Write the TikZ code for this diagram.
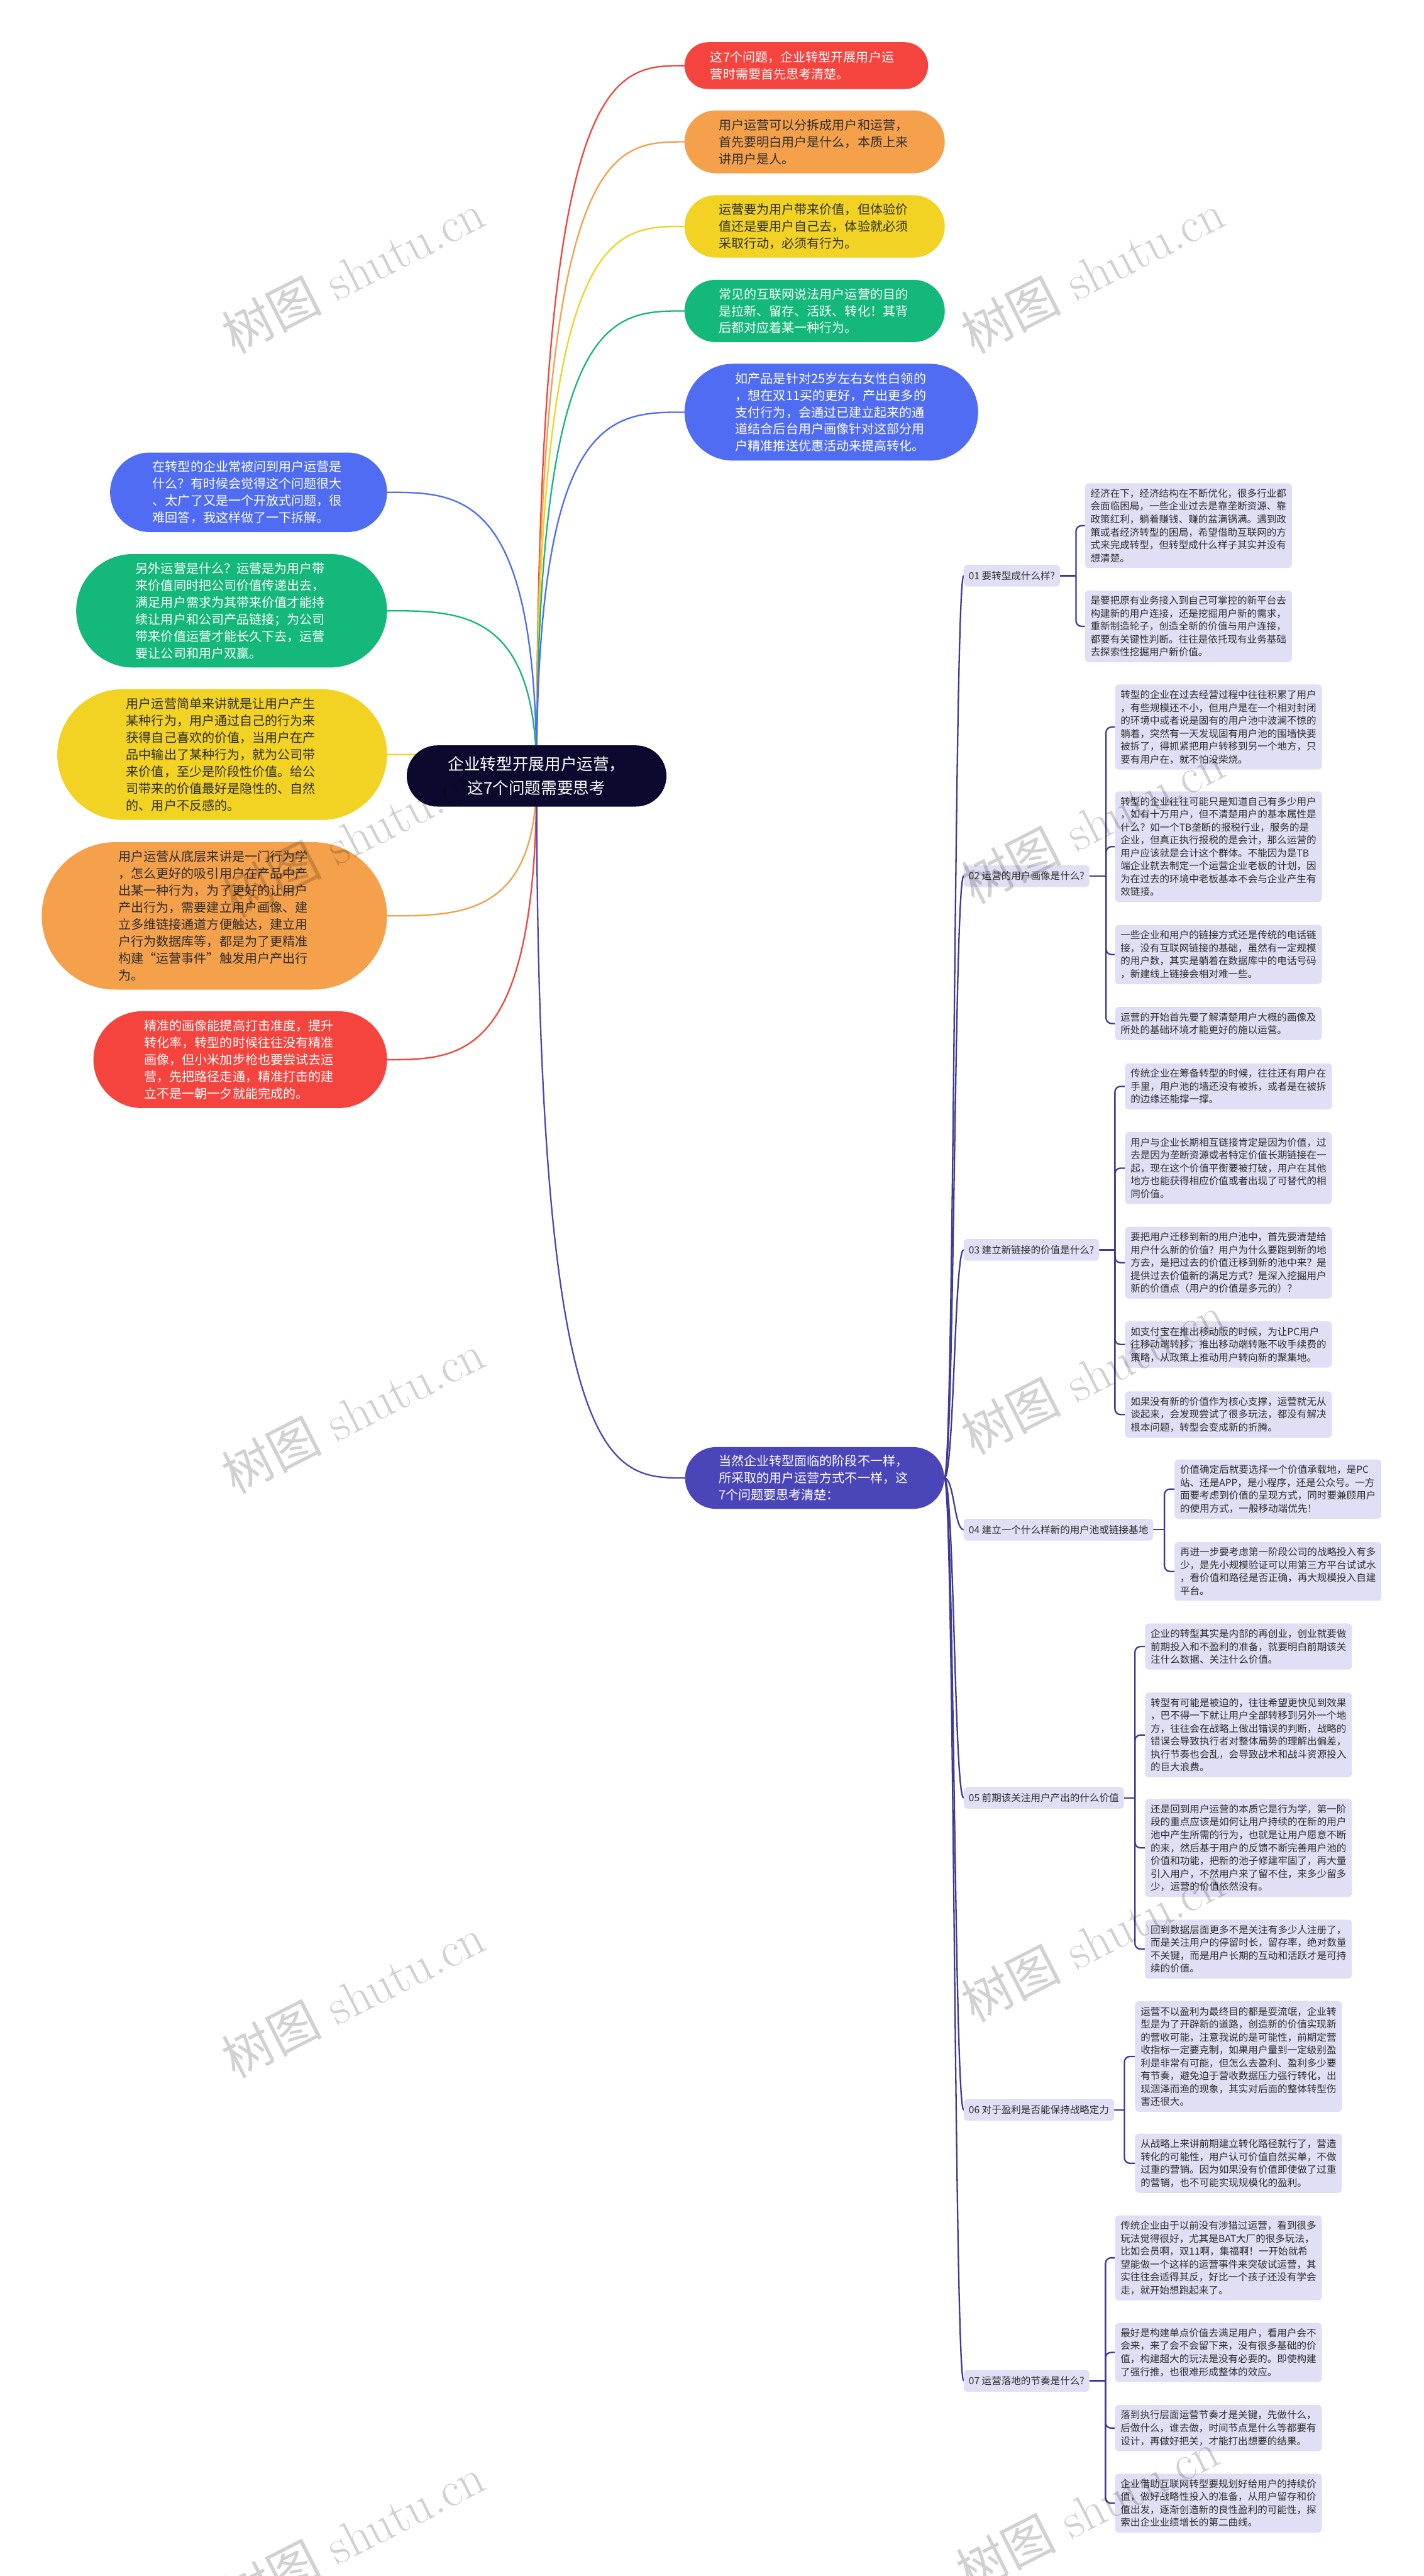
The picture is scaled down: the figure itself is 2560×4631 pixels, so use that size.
\documentclass[tikz,border=0pt]{standalone}
\usepackage{fontspec}
\newfontfamily\cjk{Noto Sans CJK SC}
\usetikzlibrary{calc,backgrounds}
\definecolor{cRed}{HTML}{F5443E}
\definecolor{cOrange}{HTML}{F5A04B}
\definecolor{cYellow}{HTML}{F2D323}
\definecolor{cGreen}{HTML}{14B87A}
\definecolor{cBlue}{HTML}{4F6CF2}
\definecolor{cPurple}{HTML}{4B45BA}
\definecolor{cCenter}{HTML}{0B0A2E}
\definecolor{cLeaf}{HTML}{E1DFF5}
\definecolor{cLine}{HTML}{3E3A96}
\definecolor{cText}{HTML}{2E2E2E}
\newcommand\mmcurve[3]{\draw[conn,#1] (C.center) .. controls (C.center |- #2.#3) and ($(C.center |- #2.#3)!0.5!(#2.#3)$) .. (#2.#3);}
\newcommand\mmspine[1]{\draw[conn,cLine] (P.east) .. controls (1716,2657) and (#1.west -| 1716,0) .. (#1.west);}
\newcommand\mmbracket[3]{%
  \draw[br] (#1.east) -- (#1.east -| #2,0);
  \foreach \l in {#3} {\draw[br] (#1.east -| #2,0) |- (\l.west);}}
\newcommand\wmark[2]{\node[wm] at (#1,#2) {{\cjk 树图} shutu.cn};}
\begin{document}
\begin{tikzpicture}[x=1pt,y=-1pt,
  pill/.style={rectangle, inner sep=0pt, font=\cjk\fontsize{22.7}{30.4}\selectfont, text width=345pt, align=left},
  cnode/.style={rectangle, fill=cCenter, text=white, minimum width=467pt, minimum height=110pt, rounded corners=55pt, inner sep=0pt, font=\cjk\fontsize{29}{43}\selectfont, align=center},
  lab/.style={rectangle, fill=cLeaf, rounded corners=6pt, inner xsep=9pt, inner ysep=0pt, minimum height=39pt, font=\cjk\fontsize{17.6}{23.2}\selectfont, text=cText, anchor=west},
  leaf/.style={rectangle, fill=cLeaf, rounded corners=7pt, inner xsep=10pt, inner ysep=10pt, text width=352pt, align=left, font=\cjk\fontsize{17.6}{23.2}\selectfont, text=cText, anchor=west},
  conn/.style={line width=2.6pt, line cap=round},
  br/.style={draw=cLine, line width=2.6pt, rounded corners=10pt},
  wm/.style={rotate=27, text=black, text opacity=0.18, font=\fontsize{90}{90}\selectfont, inner sep=0pt}
]
\useasboundingbox (0,0) rectangle (2560,4631);

% central node
\node[cnode] (C) at (965,1395) {企业转型开展用户运营，\\这7个问题需要思考};

% top right
\node[pill, fill=cRed, text=white, minimum width=438pt, minimum height=84pt, rounded corners=42pt] (R1) at (1450,118) {这7个问题，企业转型开展用户运\\营时需要首先思考清楚。};
\node[pill, fill=cOrange, text=cText, minimum width=468pt, minimum height=113pt, rounded corners=56.5pt] (R2) at (1465,255) {用户运营可以分拆成用户和运营，\\首先要明白用户是什么，本质上来\\讲用户是人。};
\node[pill, fill=cYellow, text=cText, minimum width=468pt, minimum height=112pt, rounded corners=56pt] (R3) at (1465,407) {运营要为用户带来价值，但体验价\\值还是要用户自己去，体验就必须\\采取行动，必须有行为。};
\node[pill, fill=cGreen, text=white, minimum width=468pt, minimum height=112pt, rounded corners=56pt] (R4) at (1465,559) {常见的互联网说法用户运营的目的\\是拉新、留存、活跃、转化！其背\\后都对应着某一种行为。};
\node[pill, fill=cBlue, text=white, minimum width=528pt, minimum height=174pt, rounded corners=87pt] (R5) at (1495,741) {如产品是针对25岁左右女性白领的\\，想在双11买的更好，产出更多的\\支付行为，会通过已建立起来的通\\道结合后台用户画像针对这部分用\\户精准推送优惠活动来提高转化。};

% left
\node[pill, fill=cBlue, text=white, minimum width=498pt, minimum height=143pt, rounded corners=71.5pt] (L1) at (447,885) {在转型的企业常被问到用户运营是\\什么？有时候会觉得这个问题很大\\、太广了又是一个开放式问题，很\\难回答，我这样做了一下拆解。};
\node[pill, fill=cGreen, text=white, minimum width=559pt, minimum height=204pt, rounded corners=102pt] (L2) at (416.5,1098) {另外运营是什么？运营是为用户带\\来价值同时把公司价值传递出去，\\满足用户需求为其带来价值才能持\\续让用户和公司产品链接；为公司\\带来价值运营才能长久下去，运营\\要让公司和用户双赢。};
\node[pill, fill=cYellow, text=cText, minimum width=593pt, minimum height=235pt, rounded corners=117.5pt] (L3) at (399.5,1356.5) {用户运营简单来讲就是让用户产生\\某种行为，用户通过自己的行为来\\获得自己喜欢的价值，当用户在产\\品中输出了某种行为，就为公司带\\来价值，至少是阶段性价值。给公\\司带来的价值最好是隐性的、自然\\的、用户不反感的。};
\node[pill, fill=cOrange, text=cText, minimum width=621pt, minimum height=265pt, rounded corners=132.5pt] (L4) at (385.5,1646.5) {用户运营从底层来讲是一门行为学\\，怎么更好的吸引用户在产品中产\\出某一种行为，为了更好的让用户\\产出行为，需要建立用户画像、建\\立多维链接通道方便触达，建立用\\户行为数据库等，都是为了更精准\\构建“运营事件”触发用户产出行\\为。};
\node[pill, fill=cRed, text=white, minimum width=528pt, minimum height=174pt, rounded corners=87pt] (L5) at (432,1905) {精准的画像能提高打击准度，提升\\转化率，转型的时候往往没有精准\\画像，但小米加步枪也要尝试去运\\营，先把路径走通，精准打击的建\\立不是一朝一夕就能完成的。};

% purple hub
\node[pill, fill=cPurple, text=white, minimum width=466pt, minimum height=111pt, rounded corners=55.5pt] (P) at (1465,2657) {当然企业转型面临的阶段不一样，\\所采取的用户运营方式不一样，这\\7个问题要思考清楚：};

% labels
\node[lab] (b1) at (1733,1035) {01 要转型成什么样?};
\node[lab] (b2) at (1733,1575) {02 运营的用户画像是什么?};
\node[lab] (b3) at (1733,2247) {03 建立新链接的价值是什么?};
\node[lab] (b4) at (1733,2750) {04 建立一个什么样新的用户池或链接基地};
\node[lab] (b5) at (1733,3232) {05 前期该关注用户产出的什么价值};
\node[lab] (b6) at (1733,3793) {06 对于盈利是否能保持战略定力};
\node[lab] (b7) at (1733,4280) {07 运营落地的节奏是什么?};

% leaves 01
\node[leaf] (a11) at (1951,945) {经济在下，经济结构在不断优化，很多行业都\\会面临困局，一些企业过去是靠垄断资源、靠\\政策红利，躺着赚钱、赚的盆满锅满。遇到政\\策或者经济转型的困局，希望借助互联网的方\\式来完成转型，但转型成什么样子其实并没有\\想清楚。};
\node[leaf] (a12) at (1951,1126) {是要把原有业务接入到自己可掌控的新平台去\\构建新的用户连接，还是挖掘用户新的需求，\\重新制造轮子，创造全新的价值与用户连接，\\都要有关键性判断。往往是依托现有业务基础\\去探索性挖掘用户新价值。};
% leaves 02
\node[leaf] (a21) at (2005,1307) {转型的企业在过去经营过程中往往积累了用户\\，有些规模还不小，但用户是在一个相对封闭\\的环境中或者说是固有的用户池中波澜不惊的\\躺着，突然有一天发现固有用户池的围墙快要\\被拆了，得抓紧把用户转移到另一个地方，只\\要有用户在，就不怕没柴烧。};
\node[leaf] (a22) at (2005,1522) {转型的企业往往可能只是知道自己有多少用户\\，如有十万用户，但不清楚用户的基本属性是\\什么？如一个TB垄断的报税行业，服务的是\\企业，但真正执行报税的是会计，那么运营的\\用户应该就是会计这个群体。不能因为是TB\\端企业就去制定一个运营企业老板的计划，因\\为在过去的环境中老板基本不会与企业产生有\\效链接。};
\node[leaf] (a23) at (2005,1716) {一些企业和用户的链接方式还是传统的电话链\\接，没有互联网链接的基础，虽然有一定规模\\的用户数，其实是躺着在数据库中的电话号码\\，新建线上链接会相对难一些。};
\node[leaf] (a24) at (2005,1840) {运营的开始首先要了解清楚用户大概的画像及\\所处的基础环境才能更好的施以运营。};
% leaves 03
\node[leaf] (a31) at (2023,1953) {传统企业在筹备转型的时候，往往还有用户在\\手里，用户池的墙还没有被拆，或者是在被拆\\的边缘还能撑一撑。};
\node[leaf] (a32) at (2023,2100) {用户与企业长期相互链接肯定是因为价值，过\\去是因为垄断资源或者特定价值长期链接在一\\起，现在这个价值平衡要被打破，用户在其他\\地方也能获得相应价值或者出现了可替代的相\\同价值。};
\node[leaf] (a33) at (2023,2270) {要把用户迁移到新的用户池中，首先要清楚给\\用户什么新的价值？用户为什么要跑到新的地\\方去，是把过去的价值迁移到新的池中来？是\\提供过去价值新的满足方式？是深入挖掘用户\\新的价值点（用户的价值是多元的）？};
\node[leaf] (a34) at (2023,2417) {如支付宝在推出移动版的时候，为让PC用户\\往移动端转移，推出移动端转账不收手续费的\\策略，从政策上推动用户转向新的聚集地。};
\node[leaf] (a35) at (2023,2543) {如果没有新的价值作为核心支撑，运营就无从\\谈起来，会发现尝试了很多玩法，都没有解决\\根本问题，转型会变成新的折腾。};
% leaves 04
\node[leaf] (a41) at (2112,2677) {价值确定后就要选择一个价值承载地，是PC\\站、还是APP，是小程序，还是公众号。一方\\面要考虑到价值的呈现方式，同时要兼顾用户\\的使用方式，一般移动端优先！};
\node[leaf] (a42) at (2112,2825) {再进一步要考虑第一阶段公司的战略投入有多\\少，是先小规模验证可以用第三方平台试试水\\，看价值和路径是否正确，再大规模投入自建\\平台。};
% leaves 05
\node[leaf] (a51) at (2059,2960) {企业的转型其实是内部的再创业，创业就要做\\前期投入和不盈利的准备，就要明白前期该关\\注什么数据、关注什么价值。};
\node[leaf] (a52) at (2059,3119) {转型有可能是被迫的，往往希望更快见到效果\\，巴不得一下就让用户全部转移到另外一个地\\方，往往会在战略上做出错误的判断，战略的\\错误会导致执行者对整体局势的理解出偏差，\\执行节奏也会乱，会导致战术和战斗资源投入\\的巨大浪费。};
\node[leaf] (a53) at (2059,3322) {还是回到用户运营的本质它是行为学，第一阶\\段的重点应该是如何让用户持续的在新的用户\\池中产生所需的行为，也就是让用户愿意不断\\的来，然后基于用户的反馈不断完善用户池的\\价值和功能，把新的池子修建牢固了，再大量\\引入用户，不然用户来了留不住，来多少留多\\少，运营的价值依然没有。};
\node[leaf] (a54) at (2059,3504) {回到数据层面更多不是关注有多少人注册了，\\而是关注用户的停留时长，留存率，绝对数量\\不关键，而是用户长期的互动和活跃才是可持\\续的价值。};
% leaves 06
\node[leaf] (a61) at (2041,3697) {运营不以盈利为最终目的都是耍流氓，企业转\\型是为了开辟新的道路，创造新的价值实现新\\的营收可能，注意我说的是可能性，前期定营\\收指标一定要克制，如果用户量到一定级别盈\\利是非常有可能，但怎么去盈利、盈利多少要\\有节奏，避免迫于营收数据压力强行转化，出\\现涸泽而渔的现象，其实对后面的整体转型伤\\害还很大。};
\node[leaf] (a62) at (2041,3889) {从战略上来讲前期建立转化路径就行了，营造\\转化的可能性，用户认可价值自然买单，不做\\过重的营销。因为如果没有价值即使做了过重\\的营销，也不可能实现规模化的盈利。};
% leaves 07
\node[leaf] (a71) at (2005,4059) {传统企业由于以前没有涉猎过运营，看到很多\\玩法觉得很好，尤其是BAT大厂的很多玩法，\\比如会员啊，双11啊，集福啊！一开始就希\\望能做一个这样的运营事件来突破试运营，其\\实往往会适得其反，好比一个孩子还没有学会\\走，就开始想跑起来了。};
\node[leaf] (a72) at (2005,4229) {最好是构建单点价值去满足用户，看用户会不\\会来，来了会不会留下来，没有很多基础的价\\值，构建超大的玩法是没有必要的。即使构建\\了强行推，也很难形成整体的效应。};
\node[leaf] (a73) at (2005,4365) {落到执行层面运营节奏才是关键，先做什么，\\后做什么，谁去做，时间节点是什么等都要有\\设计，再做好把关，才能打出想要的结果。};
\node[leaf] (a74) at (2005,4500) {企业借助互联网转型要规划好给用户的持续价\\值，做好战略性投入的准备，从用户留存和价\\值出发，逐渐创造新的良性盈利的可能性，探\\索出企业业绩增长的第二曲线。};

\begin{scope}[on background layer]
\fill[white] (0,0) rectangle (2560,4631);
\mmcurve{cRed}{R1}{west}
\mmcurve{cOrange}{R2}{west}
\mmcurve{cYellow}{R3}{west}
\mmcurve{cGreen}{R4}{west}
\mmcurve{cBlue}{R5}{west}
\mmcurve{cBlue}{L1}{east}
\mmcurve{cGreen}{L2}{east}
\mmcurve{cYellow}{L3}{east}
\mmcurve{cOrange}{L4}{east}
\mmcurve{cRed}{L5}{east}
\mmcurve{cPurple}{P}{west}
\mmspine{b1}\mmspine{b2}\mmspine{b3}\mmspine{b4}\mmspine{b5}\mmspine{b6}\mmspine{b7}
\mmbracket{b1}{1935}{a11,a12}
\mmbracket{b2}{1989}{a21,a22,a23,a24}
\mmbracket{b3}{2005}{a31,a32,a33,a34,a35}
\mmbracket{b4}{2094}{a41,a42}
\mmbracket{b5}{2041}{a51,a52,a53,a54}
\mmbracket{b6}{2022}{a61,a62}
\mmbracket{b7}{1988}{a71,a72,a73,a74}
\end{scope}

% watermarks
\wmark{635}{490}\wmark{1965}{490}
\wmark{635}{1505}\wmark{1965}{1480}
\wmark{635}{2540}\wmark{1965}{2470}
\wmark{635}{3590}\wmark{1965}{3490}
\wmark{635}{4560}\wmark{1955}{4513}
\end{tikzpicture}
\end{document}
